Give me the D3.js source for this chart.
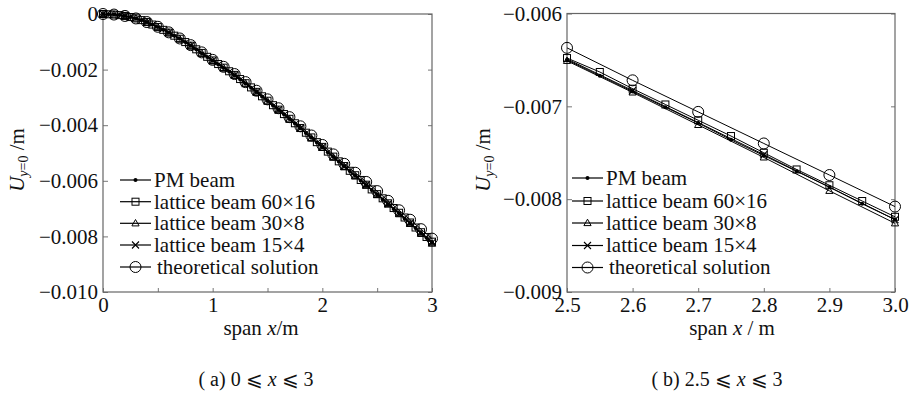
<!DOCTYPE html>
<html><head><meta charset="utf-8">
<script src="https://cdn.jsdelivr.net/npm/d3@7"></script>
<style>
body{margin:0;background:#fff}
svg text{font-family:"Liberation Serif","Times New Roman",Times,"DejaVu Serif",serif !important;fill:#111}
</style></head><body>
<svg id="chart" width="913" height="395"></svg>
<script>
// ---------------- data ----------------
const seriesNames = ["PM beam","lattice beam 60\u00d716","lattice beam 30\u00d78","lattice beam 15\u00d74","theoretical solution"];

const xStep005 = [0,0.05,0.1,0.15,0.2,0.25,0.3,0.35,0.4,0.45,0.5,0.55,0.6,0.65,0.7,0.75,0.8,0.85,0.9,0.95,1.0,1.05,1.1,1.15,1.2,1.25,1.3,1.35,1.4,1.45,1.5,1.55,1.6,1.65,1.7,1.75,1.8,1.85,1.9,1.95,2.0,2.05,2.1,2.15,2.2,2.25,2.3,2.35,2.4,2.45,2.5,2.55,2.6,2.65,2.7,2.75,2.8,2.85,2.9,2.95,3.0];
const xStep01 = [0,0.1,0.2,0.3,0.4,0.5,0.6,0.7,0.8,0.9,1.0,1.1,1.2,1.3,1.4,1.5,1.6,1.7,1.8,1.9,2.0,2.1,2.2,2.3,2.4,2.5,2.6,2.7,2.8,2.9,3.0];
const xStep02 = [0,0.2,0.4,0.6,0.8,1.0,1.2,1.4,1.6,1.8,2.0,2.2,2.4,2.6,2.8,3.0];

const pmBeam = [0,-0.00001,-0.00002,-0.00004,-0.00007,-0.00011,-0.00016,-0.00022,-0.00029,-0.00038,-0.00047,-0.00057,-0.00067,-0.00078,-0.00089,-0.00101,-0.00114,-0.00127,-0.00141,-0.00155,-0.00168,-0.00181,-0.00194,-0.00207,-0.00220,-0.00235,-0.00250,-0.00265,-0.00281,-0.00297,-0.00313,-0.00329,-0.00345,-0.00361,-0.00378,-0.00394,-0.00411,-0.00428,-0.00445,-0.00462,-0.00479,-0.00497,-0.00514,-0.00531,-0.00548,-0.00565,-0.00582,-0.00599,-0.00616,-0.00633,-0.00650,-0.00667,-0.00684,-0.00701,-0.00718,-0.00736,-0.00753,-0.00770,-0.00787,-0.00805,-0.00822];
const lattice60x16 = [0,-0.00001,-0.00002,-0.00004,-0.00007,-0.00011,-0.00016,-0.00022,-0.00029,-0.00038,-0.00047,-0.00057,-0.00067,-0.00078,-0.00089,-0.00101,-0.00114,-0.00127,-0.00140,-0.00154,-0.00167,-0.00180,-0.00193,-0.00206,-0.00219,-0.00234,-0.00249,-0.00264,-0.00280,-0.00296,-0.00312,-0.00328,-0.00344,-0.00360,-0.00377,-0.00393,-0.00410,-0.00427,-0.00444,-0.00461,-0.00478,-0.00495,-0.00513,-0.00530,-0.00547,-0.00564,-0.00580,-0.00597,-0.00614,-0.00631,-0.00648,-0.00663,-0.00681,-0.00698,-0.00715,-0.00732,-0.00750,-0.00768,-0.00785,-0.00802,-0.00819];
const lattice30x8 = [0,-0.00002,-0.00007,-0.00016,-0.00030,-0.00047,-0.00067,-0.00090,-0.00114,-0.00141,-0.00169,-0.00194,-0.00221,-0.00250,-0.00282,-0.00314,-0.00346,-0.00379,-0.00413,-0.00447,-0.00481,-0.00516,-0.00551,-0.00584,-0.00617,-0.00651,-0.00685,-0.00720,-0.00755,-0.00791,-0.00826];
const lattice15x4 = [0,-0.00007,-0.00030,-0.00067,-0.00114,-0.00168,-0.00220,-0.00281,-0.00345,-0.00411,-0.00479,-0.00548,-0.00615,-0.00683,-0.00752,-0.00822];
const theory = [0,-0.00002,-0.00007,-0.00016,-0.00029,-0.00046,-0.00066,-0.00088,-0.00112,-0.00138,-0.00165,-0.00190,-0.00216,-0.00245,-0.00276,-0.00307,-0.00339,-0.00371,-0.00404,-0.00437,-0.00471,-0.00505,-0.00539,-0.00571,-0.00604,-0.00637,-0.00672,-0.00706,-0.00740,-0.00774,-0.00808];

// ticks
const aXTicks = [0,0.5,1,1.5,2,2.5,3];
const aXTickLabels = ["0","","1","","2","","3"];
const aYTicks = [0,-0.002,-0.004,-0.006,-0.008,-0.010];
const aYTickLabels = ["0","\u22120.002","\u22120.004","\u22120.006","\u22120.008","\u22120.010"];
const bXTicks = [2.5,2.6,2.7,2.8,2.9,3.0];
const bXTickLabels = ["2.5","2.6","2.7","2.8","2.9","3.0"];
const bYTicks = [-0.006,-0.007,-0.008,-0.009];
const bYTickLabels = ["\u22120.006","\u22120.007","\u22120.008","\u22120.009"];

// ---------------- drawing ----------------
const FONT = "'Liberation Serif','Times New Roman',Times,'DejaVu Serif',serif";
const svg = d3.select("#chart");
svg.append("rect").attr("width",913).attr("height",395).attr("fill","#fff");

const series = [
  {name:seriesNames[0], xs:xStep005, ys:pmBeam, sym:"dot"},
  {name:seriesNames[1], xs:xStep005, ys:lattice60x16, sym:"square"},
  {name:seriesNames[2], xs:xStep01, ys:lattice30x8, sym:"triangle"},
  {name:seriesNames[3], xs:xStep02, ys:lattice15x4, sym:"cross"},
  {name:seriesNames[4], xs:xStep01, ys:theory, sym:"circle"}
];

function drawMarker(g, sym, cx, cy){
  const s = g.append("g").attr("transform",`translate(${cx},${cy})`);
  if(sym==="dot") s.append("circle").attr("r",2).attr("fill","#000");
  else if(sym==="square") s.append("rect").attr("x",-3.5).attr("y",-3.5).attr("width",7).attr("height",7).attr("fill","none").attr("stroke","#000").attr("stroke-width",1);
  else if(sym==="triangle") s.append("path").attr("d","M0,-3.8L3.6,2.6L-3.6,2.6Z").attr("fill","none").attr("stroke","#000").attr("stroke-width",1);
  else if(sym==="cross") s.append("path").attr("d","M-3.5,-3.5L3.5,3.5M-3.5,3.5L3.5,-3.5").attr("stroke","#000").attr("stroke-width",1.1);
  else if(sym==="circle") s.append("circle").attr("r",5.5).attr("fill","none").attr("stroke","#000").attr("stroke-width",1);
}

function panel(cfg){
  const x = d3.scaleLinear().domain(cfg.xDom).range([cfg.left,cfg.right]);
  const y = d3.scaleLinear().domain(cfg.yDom).range([cfg.top,cfg.bottom]);
  const id = "clip"+cfg.key;
  svg.append("clipPath").attr("id",id).append("rect")
    .attr("x",cfg.left-6).attr("y",cfg.top-6).attr("width",cfg.right-cfg.left+12).attr("height",cfg.bottom-cfg.top+6);
  const clipLine = "clipL"+cfg.key;
  svg.append("clipPath").attr("id",clipLine).append("rect")
    .attr("x",cfg.left).attr("y",cfg.top).attr("width",cfg.right-cfg.left).attr("height",cfg.bottom-cfg.top);

  const xa = svg.append("g").attr("transform",`translate(0,${cfg.bottom})`)
    .call(d3.axisBottom(x).tickValues(cfg.xTicks).tickSizeInner(-4).tickSizeOuter(0).tickPadding(5)
      .tickFormat((d,i)=>cfg.xLabels[i]));
  const ya = svg.append("g").attr("transform",`translate(${cfg.left},0)`)
    .call(d3.axisLeft(y).tickValues(cfg.yTicks).tickSizeInner(-5).tickSizeOuter(0).tickPadding(5)
      .tickFormat((d,i)=>cfg.yLabels[i]));
  const yr = svg.append("g").attr("transform",`translate(${cfg.right},0)`)
    .call(d3.axisRight(y).tickValues(cfg.yTicks).tickSizeInner(-4).tickSizeOuter(0).tickFormat(""));
  [xa,ya,yr].forEach(a=>{
    a.attr("font-family",FONT);
    a.select(".domain").remove();
    a.selectAll("line").attr("stroke","#777");
    a.selectAll("text").attr("font-size",21).attr("fill","#111").style("font-family",FONT);
  });
  xa.selectAll("text").attr("dy","0.7em");

  svg.append("rect").attr("x",cfg.left).attr("y",cfg.top).attr("width",cfg.right-cfg.left).attr("height",cfg.bottom-cfg.top)
    .attr("fill","none").attr("stroke","#666").attr("stroke-width",1.2);

  const line = d3.line().x(d=>x(d[0])).y(d=>y(d[1]));
  const gl = svg.append("g").attr("clip-path",`url(#${clipLine})`);
  const gm = svg.append("g").attr("clip-path",`url(#${id})`);
  series.forEach(s=>{
    const pts = s.xs.map((v,i)=>[v,s.ys[i]]);
    gl.append("path").attr("d",line(pts)).attr("fill","none").attr("stroke","#000").attr("stroke-width",1);
    pts.forEach(p=>{
      if(p[0]>=cfg.xDom[0]-1e-9 && p[0]<=cfg.xDom[1]+1e-9) drawMarker(gm,s.sym,x(p[0]),y(p[1]));
    });
  });

  series.forEach((s,i)=>{
    const yy = cfg.legY[i];
    svg.append("line").attr("x1",cfg.legX).attr("x2",cfg.legX+31).attr("y1",yy).attr("y2",yy).attr("stroke","#000").attr("stroke-width",1.2);
    drawMarker(svg,s.sym,cfg.legX+15.5,yy);
    svg.append("text").attr("x",cfg.legX+34+(i===4?3:0)).attr("y",yy).attr("dy","0.33em").attr("font-size",21).style("font-family",FONT).text(s.name);
  });

  const xt = svg.append("text").attr("x",cfg.xTitleX).attr("y",cfg.bottom+43).attr("text-anchor","middle").attr("font-size",21).style("font-family",FONT);
  xt.append("tspan").text("span ");
  xt.append("tspan").attr("font-style","italic").text("x");
  xt.append("tspan").text(cfg.slash);

  const yt = svg.append("text").attr("transform",`translate(${cfg.yTitleX},${cfg.yTitleY}) rotate(-90)`).attr("text-anchor","middle").attr("font-size",21).style("font-family",FONT);
  yt.append("tspan").attr("font-style","italic").text("U");
  yt.append("tspan").attr("font-size",14).attr("dy","4").attr("font-style","italic").text("y");
  yt.append("tspan").attr("font-size",14).text("=0");
  yt.append("tspan").attr("dy","-4").text(" /m");

  const cp = svg.append("text").attr("x",cfg.capX).attr("y",386).attr("text-anchor","middle").attr("font-size",20).style("font-family",FONT);
  cp.append("tspan").text(cfg.capA);
  cp.append("tspan").attr("font-style","italic").text("x");
  cp.append("tspan").text(" \u2a7d 3");
}

panel({key:"a", xDom:[0,3], yDom:[0,-0.010], left:103, right:432, top:14, bottom:292,
  xTicks:aXTicks, xLabels:aXTickLabels, yTicks:aYTicks, yLabels:aYTickLabels,
  legX:120, legY:[180,201.7,223.3,245,267], xTitleX:261, slash:"/m", yTitleX:24, yTitleY:160,
  capX:256, capA:"( a)  0 \u2a7d "});
panel({key:"b", xDom:[2.5,3.0], yDom:[-0.006,-0.009], left:567, right:895, top:13.5, bottom:292,
  xTicks:bXTicks, xLabels:bXTickLabels, yTicks:bYTicks, yLabels:bYTickLabels,
  legX:572, legY:[178,201,223,245.5,267.5], xTitleX:732, slash:" / m", yTitleX:490, yTitleY:160,
  capX:717, capA:"( b)  2.5 \u2a7d "});
</script>
</body></html>
